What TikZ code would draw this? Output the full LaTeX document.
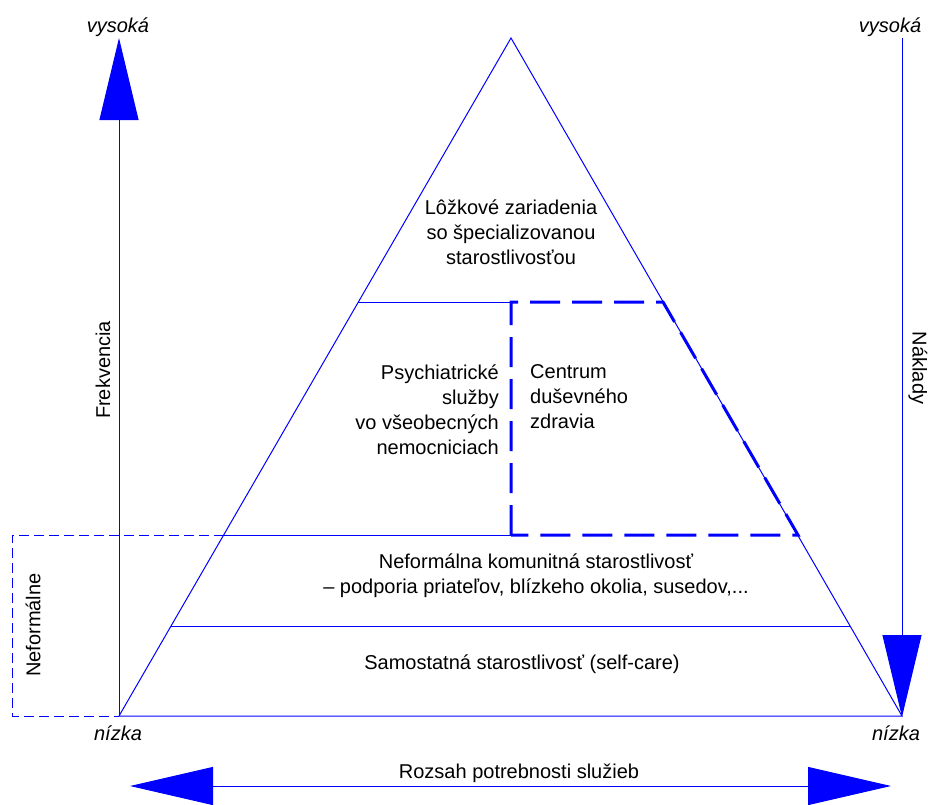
\documentclass[tikz,border=0pt]{standalone}
\usepackage{fontspec}
\setmainfont{Liberation Sans}
\usetikzlibrary{arrows.meta}
\begin{document}
\begin{tikzpicture}[x=1pt,y=-1pt,
  edge/.style={blue,line width=1pt},
  thickdash/.style={blue,line width=3pt,dash pattern=on 30pt off 12pt},
  thindash/.style={blue,line width=1pt,dash pattern=on 10pt off 5pt},
  lbl/.style={font=\fontsize{20}{25}\selectfont,inner sep=0pt},
  ital/.style={font=\fontsize{20}{25}\selectfont\itshape,inner sep=0pt},
  bigtip/.style={-{Triangle[length=82pt,width=39pt]}},
]
\useasboundingbox (0,0) rectangle (928,804);
% key points
\coordinate (apex) at (511,38);
\coordinate (bl) at (119,716);
\coordinate (br) at (902,716);
\coordinate (l302) at (358,302);
\coordinate (m302) at (511,302);
\coordinate (r302) at (663,302);
\coordinate (l535) at (224,535);
\coordinate (m535) at (511,535);
\coordinate (r535) at (798,535);
\coordinate (l626) at (171,626);
\coordinate (r626) at (850,626);
\coordinate (ftop) at (119,38);
\coordinate (ntop) at (902,38);
\coordinate (nbot) at (902,717);
\coordinate (xl) at (130,786);
\coordinate (xr) at (891,786);
\coordinate (bx1) at (12,535);
\coordinate (bx2) at (12,716);

% pyramid
\draw[edge] (bl) -- (apex) -- (br) -- (bl);
\draw[edge] (l302) -- (m302);
\draw[edge] (l535) -- (m535);
\draw[edge] (l626) -- (r626);
\draw[thickdash] (m535) -- (m302) -- (r302) -- (r535) -- cycle;
\draw[thindash] (l535) -- (bx1) -- (bx2) -- (bl);

% axes
\draw[edge,bigtip] (bl) -- (ftop);
\draw[edge,bigtip] (ntop) -- (nbot);
\draw[edge,{Triangle[length=83pt,width=38pt]}-{Triangle[length=83pt,width=38pt]}] (xl) -- (xr);

% texts
\node[lbl,align=center] (t1) at (511,232) {Lôžkové zariadenia\\so špecializovanou\\starostlivosťou};
\node[lbl,align=right,anchor=east] (t2) at (499,410) {Psychiatrické\\služby\\vo všeobecných\\nemocniciach};
\node[lbl,align=left,anchor=west] (t3) at (530,397) {Centrum\\duševného\\zdravia};
\node[lbl,align=center] (t4) at (536,576) {Neformálna komunitná starostlivosť\\– podporia priateľov, blízkeho okolia, susedov,...};
\node[lbl] (t5) at (522,664) {Samostatná starostlivosť (self-care)};
\node[lbl] (t6) at (519,773) {Rozsah potrebnosti služieb};
\node[ital] (v1) at (118,27) {vysoká};
\node[ital] (v2) at (890,27) {vysoká};
\node[ital] (n1) at (118,733) {nízka};
\node[ital] (n2) at (896,733) {nízka};
\node[lbl,rotate=90] (fr) at (103,370) {Frekvencia};
\node[lbl,rotate=-90] (na) at (918,368) {Náklady};
\node[lbl,rotate=90] (nf) at (33,625) {Neformálne};
\end{tikzpicture}
\end{document}
